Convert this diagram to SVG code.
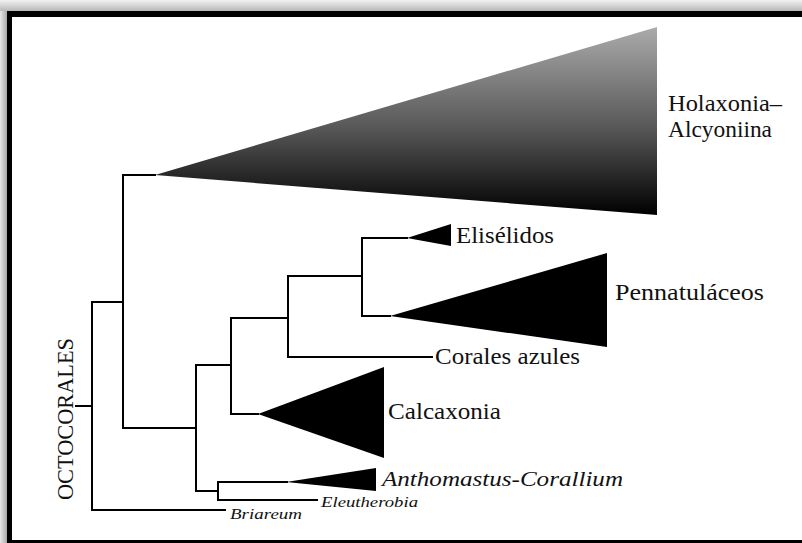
<svg xmlns="http://www.w3.org/2000/svg" width="802" height="543" viewBox="0 0 802 543">
  <defs>
    <linearGradient id="topShade" x1="0" y1="0" x2="0" y2="1">
      <stop offset="0" stop-color="#f2f2f2"/>
      <stop offset="1" stop-color="#b8b8b8"/>
    </linearGradient>
    <linearGradient id="leftShade" x1="0" y1="0" x2="1" y2="0">
      <stop offset="0" stop-color="#e8e8e8"/>
      <stop offset="1" stop-color="#a8a8a8"/>
    </linearGradient>
    <linearGradient id="holaxFill" gradientUnits="userSpaceOnUse" x1="0" y1="27" x2="0" y2="215">
      <stop offset="0" stop-color="#ababab"/>
      <stop offset="0.55" stop-color="#555"/>
      <stop offset="1" stop-color="#000"/>
    </linearGradient>
    <style>
      .br { fill: none; stroke: #000; stroke-width: 2; stroke-linecap: square; }
      .tri { fill: #000; stroke: none; }
      .lbl { font-family: "Liberation Serif", "Times New Roman", serif; font-size: 23px; fill: #111; }
      .ital { font-family: "Liberation Serif", "Times New Roman", serif; font-style: italic; fill: #111; }
    </style>
  </defs>

  <!-- frame -->
  <rect x="0" y="0" width="802" height="543" fill="#ffffff"/>
  <rect x="0" y="0" width="802" height="11" fill="url(#topShade)"/>
  <rect x="0" y="11" width="7" height="532" fill="url(#leftShade)"/>
  <rect x="7" y="11" width="797" height="534" fill="#000"/>
  <rect x="12" y="17" width="792" height="523" fill="#ffffff"/>

  <!-- connectors -->
  <g id="connectors">
    <path class="br" d="M76,406 H92"/>
    <path class="br" d="M123,302 H92 V510 H225"/>
    <path class="br" d="M155,175 H123 V428 H196"/>
    <path class="br" d="M231,365 H196 V491 H218"/>
    <path class="br" d="M287,482 H218 V500 H317"/>
    <path class="br" d="M288,318 H231 V414 H258"/>
    <path class="br" d="M362,276 H288 V357 H432"/>
    <path class="br" d="M407,238 H362 V316 H390"/>
  </g>

  <!-- nodes -->
  <g id="holaxonia">
    <polygon points="155,175 657,27 657,215" fill="url(#holaxFill)"/>
    <text class="lbl" x="668" y="111" font-size="24" textLength="114" lengthAdjust="spacingAndGlyphs">Holaxonia–</text>
    <text class="lbl" x="668" y="137" font-size="24" textLength="104" lengthAdjust="spacingAndGlyphs">Alcyoniina</text>
  </g>

  <g id="eliselidos">
    <polygon class="tri" points="407,238 451,224 451,246"/>
    <text class="lbl" x="456" y="243" textLength="98" lengthAdjust="spacingAndGlyphs">Elisélidos</text>
  </g>

  <g id="pennatulaceos">
    <polygon class="tri" points="390,316 607,253 607,347"/>
    <text class="lbl" x="615" y="300" textLength="149" lengthAdjust="spacingAndGlyphs">Pennatuláceos</text>
  </g>

  <g id="corales-azules">
    <text class="lbl" x="435" y="364" textLength="145" lengthAdjust="spacingAndGlyphs">Corales azules</text>
  </g>

  <g id="calcaxonia">
    <polygon class="tri" points="258,414 384,367 384,458"/>
    <text class="lbl" x="388" y="419" textLength="113" lengthAdjust="spacingAndGlyphs">Calcaxonia</text>
  </g>

  <g id="anthomastus-corallium">
    <polygon class="tri" points="286,482 376,468 376,491"/>
    <text class="ital" x="382" y="486" font-size="20" textLength="241" lengthAdjust="spacingAndGlyphs">Anthomastus-Corallium</text>
  </g>

  <g id="eleutherobia">
    <text class="ital" x="321" y="507" font-size="15" textLength="97" lengthAdjust="spacingAndGlyphs">Eleutherobia</text>
  </g>

  <g id="briareum">
    <text class="ital" x="230" y="519" font-size="15" textLength="72" lengthAdjust="spacingAndGlyphs">Briareum</text>
  </g>

  <g id="octocorales">
    <text class="lbl" transform="translate(73,500) rotate(-90)" x="0" y="0" textLength="162" lengthAdjust="spacingAndGlyphs">OCTOCORALES</text>
  </g>
</svg>
